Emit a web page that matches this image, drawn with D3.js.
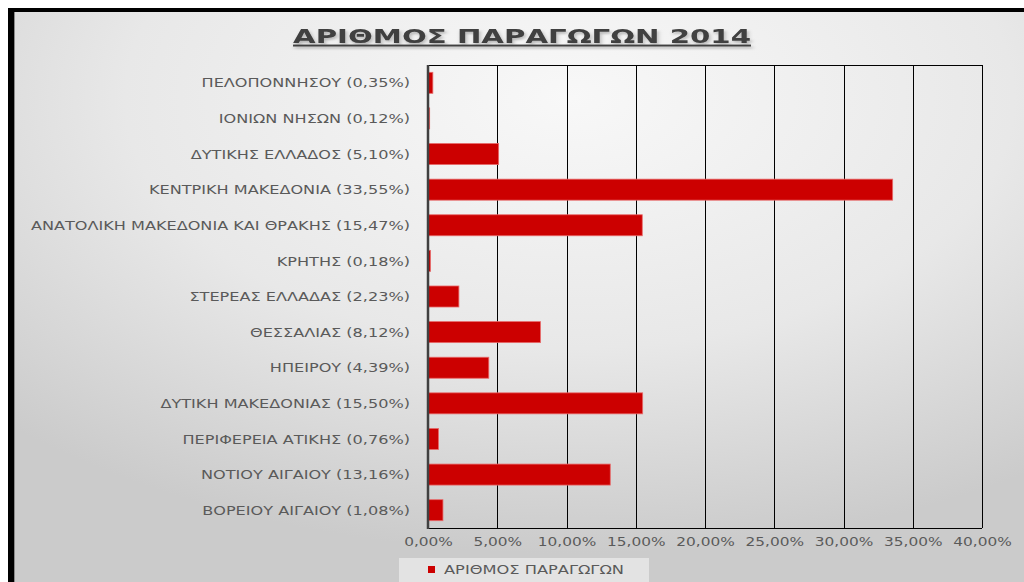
<!DOCTYPE html>
<html>
<head>
<meta charset="utf-8">
<script src="https://cdn.jsdelivr.net/npm/d3@7"></script>
<style>
  html, body { margin: 0; padding: 0; background: #ffffff; }
  svg { display: block; }
</style>
</head>
<body>
<script>
// Regions and their share of producers (%), top to bottom
const regions = [
  "ΠΕΛΟΠΟΝΝΗΣΟΥ", "ΙΟΝΙΩΝ ΝΗΣΩΝ", "ΔΥΤΙΚΗΣ ΕΛΛΑΔΟΣ", "ΚΕΝΤΡΙΚΗ ΜΑΚΕΔΟΝΙΑ",
  "ΑΝΑΤΟΛΙΚΗ ΜΑΚΕΔΟΝΙΑ ΚΑΙ ΘΡΑΚΗΣ", "ΚΡΗΤΗΣ", "ΣΤΕΡΕΑΣ ΕΛΛΑΔΑΣ", "ΘΕΣΣΑΛΙΑΣ",
  "ΗΠΕΙΡΟΥ", "ΔΥΤΙΚΗ ΜΑΚΕΔΟΝΙΑΣ", "ΠΕΡΙΦΕΡΕΙΑ ΑΤΙΚΗΣ", "ΝΟΤΙΟΥ ΑΙΓΑΙΟΥ", "ΒΟΡΕΙΟΥ ΑΙΓΑΙΟΥ"
];
const shares = [0.35, 0.12, 5.10, 33.55, 15.47, 0.18, 2.23, 8.12, 4.39, 15.50, 0.76, 13.16, 1.08];
const xTicks = [0, 5, 10, 15, 20, 25, 30, 35, 40];
const chartTitle = "ΑΡΙΘΜΟΣ ΠΑΡΑΓΩΓΩΝ 2014";
const seriesName = "ΑΡΙΘΜΟΣ ΠΑΡΑΓΩΓΩΝ";

const W = 1024, H = 582;
const fmt = v => v.toFixed(2).replace(".", ",") + "%";
const labelOf = (name, i) => `${name} (${fmt(shares[i])})`;
const textFont = "'DejaVu Sans', sans-serif";
const sx = 1.24; // horizontal stretch of text

const svg = d3.select("body").append("svg").attr("width", W).attr("height", H);
const defs = svg.append("defs");

const grad = defs.append("radialGradient").attr("id", "bg")
  .attr("cx", "0.55").attr("cy", "0.15").attr("r", "0.8");
grad.append("stop").attr("offset", "0").attr("stop-color", "#f8f8f8");
grad.append("stop").attr("offset", "0.55").attr("stop-color", "#e8e8e8");
grad.append("stop").attr("offset", "1").attr("stop-color", "#cbcbcb");

const shadow = defs.append("filter").attr("id", "shadow")
  .attr("x", "-10%").attr("y", "-30%").attr("width", "120%").attr("height", "160%");
shadow.append("feDropShadow").attr("dx", 1).attr("dy", 2).attr("stdDeviation", 1.3)
  .attr("flood-color", "#000").attr("flood-opacity", 0.25);

// Frame and background
svg.append("rect").attr("x", 14).attr("y", 12).attr("width", W - 14).attr("height", H - 12)
  .attr("fill", "url(#bg)");
svg.append("rect").attr("x", 8).attr("y", 8).attr("width", W - 8).attr("height", 4).attr("fill", "#000");
svg.append("rect").attr("x", 8).attr("y", 8).attr("width", 6).attr("height", H - 8).attr("fill", "#000");
svg.append("line").attr("x1", 14.5).attr("x2", 14.5).attr("y1", 12).attr("y2", H)
  .attr("stroke", "#8a8a8a").attr("stroke-width", 1);

// Plot area
const plot = { left: 428, right: 982, top: 65, bottom: 528 };
const x = d3.scaleLinear().domain([0, 40]).range([plot.left, plot.right]);
const y = d3.scaleBand().domain(regions).range([plot.top, plot.bottom])
  .paddingInner(0.41).paddingOuter(0.205);

// Vertical gridlines and plot border
svg.append("g").selectAll("line").data(xTicks).join("line")
  .attr("x1", d => Math.round(x(d)) + 0.5).attr("x2", d => Math.round(x(d)) + 0.5)
  .attr("y1", plot.top).attr("y2", plot.bottom)
  .attr("stroke", "#000").attr("stroke-width", 1);
svg.append("line").attr("x1", plot.left).attr("x2", plot.right)
  .attr("y1", plot.bottom + 0.5).attr("y2", plot.bottom + 0.5).attr("stroke", "#000");
svg.append("line").attr("x1", plot.left).attr("x2", plot.right)
  .attr("y1", plot.top + 0.5).attr("y2", plot.top + 0.5).attr("stroke", "#000");

// Bars
svg.append("g").selectAll("rect").data(regions).join("rect")
  .attr("x", x(0))
  .attr("y", d => y(d))
  .attr("width", (d, i) => x(shares[i]) - x(0))
  .attr("height", y.bandwidth())
  .attr("fill", "#cc0000")
  .attr("stroke", "#e86a6a").attr("stroke-width", 0.8);

// Category axis line
svg.append("line").attr("x1", plot.left).attr("x2", plot.left)
  .attr("y1", plot.top).attr("y2", plot.bottom + 1)
  .attr("stroke", "#404040").attr("stroke-width", 2.5);

// Category labels
const yAxis = d3.axisLeft(y).tickSize(0).tickPadding(0)
  .tickFormat(d => labelOf(d, regions.indexOf(d)));
const gy = svg.append("g").attr("transform", `translate(${plot.left - 18},0)`).call(yAxis);
gy.select(".domain").remove();
gy.selectAll("text")
  .attr("font-family", textFont).attr("font-size", 13).attr("fill", "#5a5a5a")
  .attr("dy", "0.36em").attr("transform", `scale(${sx},1)`);

// Value axis labels
const xAxis = d3.axisBottom(x).tickValues(xTicks).tickSize(0).tickPadding(0).tickFormat(fmt);
const gx = svg.append("g").attr("transform", `translate(0,${plot.bottom})`).call(xAxis);
gx.select(".domain").remove();
gx.selectAll("text")
  .attr("font-family", textFont).attr("font-size", 13).attr("fill", "#5a5a5a")
  .attr("dy", 0).attr("y", 18).attr("transform", `scale(1.18,1)`);

// Title
const title = svg.append("g").attr("transform", `translate(522,43) scale(1.5,1)`);
title.append("text").attr("text-anchor", "middle")
  .attr("font-family", "'DejaVu Sans', sans-serif").attr("font-weight", "bold")
  .attr("font-size", 19.5).attr("fill", "#404040").attr("filter", "url(#shadow)")
  .attr("text-decoration", "underline")
  .text(chartTitle);

// Legend
const lg = svg.append("g").attr("transform", "translate(399,558)");
lg.append("rect").attr("width", 250).attr("height", 30).attr("fill", "#e3e3e3");
lg.append("rect").attr("x", 29).attr("y", 8).attr("width", 7).attr("height", 7).attr("fill", "#cc0000");
lg.append("g").attr("transform", `translate(45,11.5) scale(1.25,1)`)
  .append("text").attr("font-family", textFont).attr("font-size", 13).attr("fill", "#5a5a5a")
  .attr("dy", "0.36em").text(seriesName);
</script>
</body>
</html>
